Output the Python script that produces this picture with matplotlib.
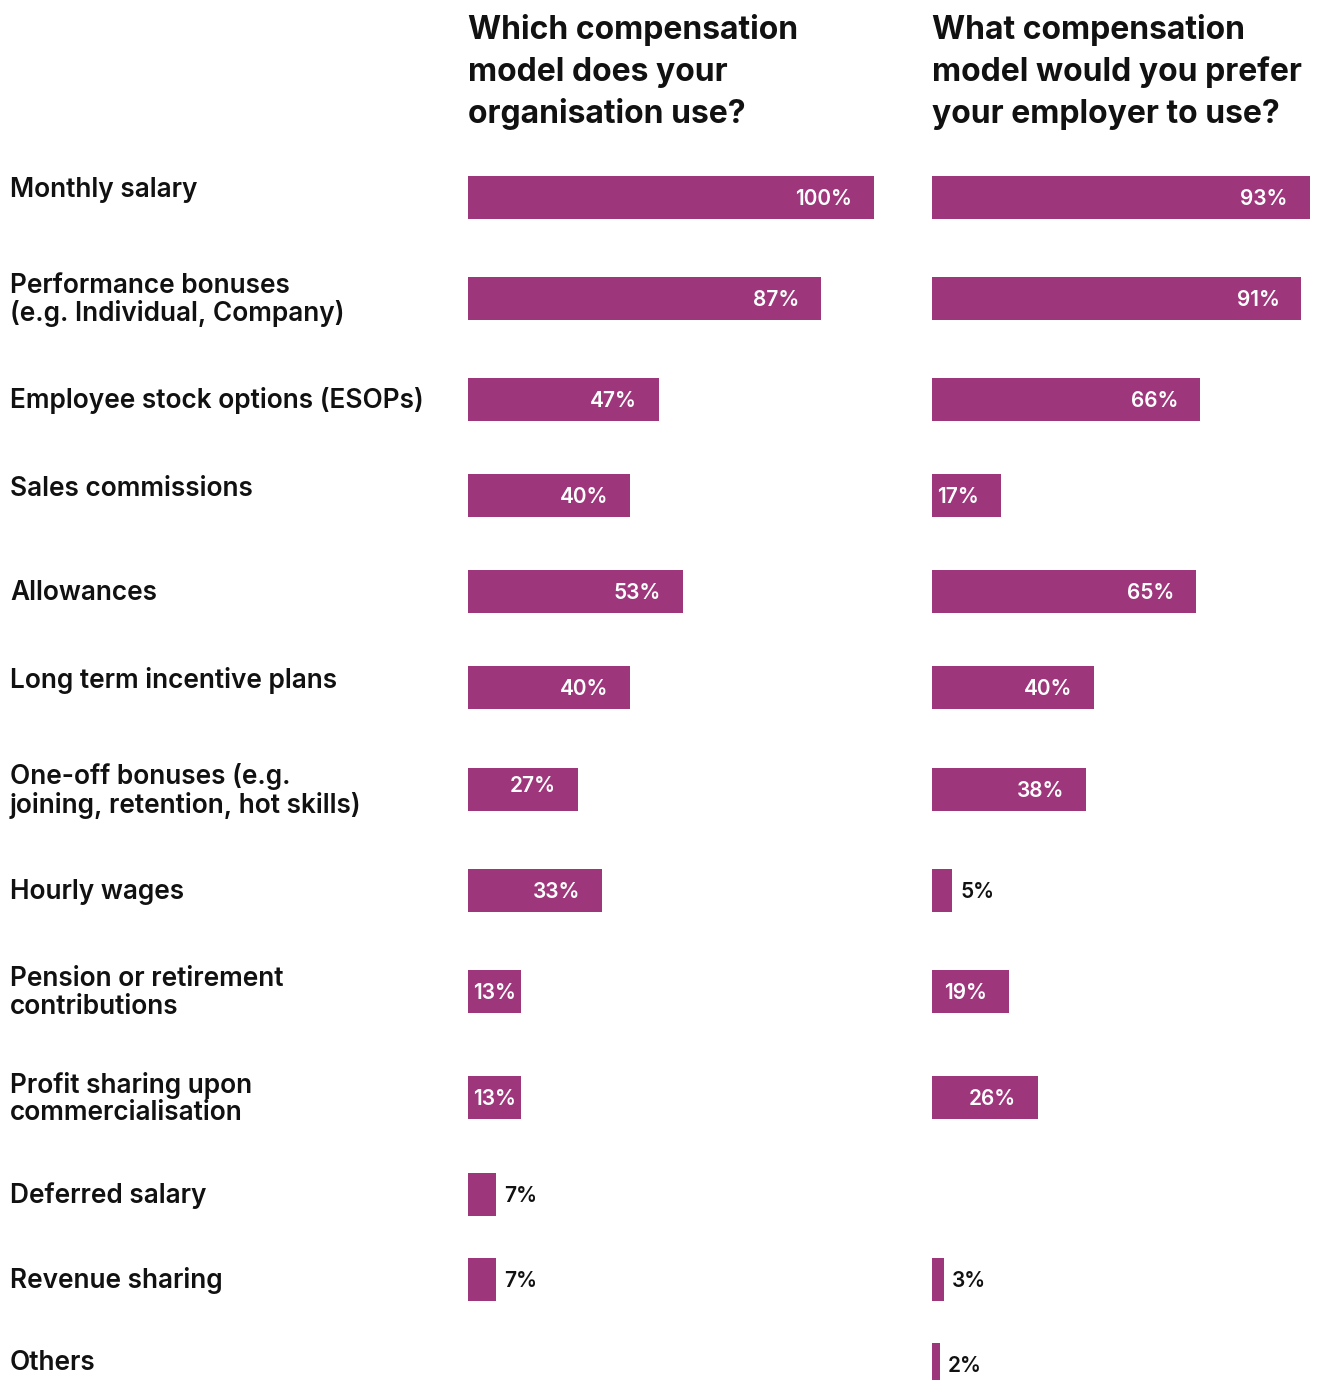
import matplotlib
matplotlib.use("Agg")
import matplotlib.pyplot as plt
from matplotlib.transforms import blended_transform_factory

# survey results, % of respondents
categories = [
    "Monthly salary",
    "Performance bonuses\n(e.g. Individual, Company)",
    "Employee stock options (ESOPs)",
    "Sales commissions",
    "Allowances",
    "Long term incentive plans",
    "One-off bonuses (e.g.\njoining, retention, hot skills)",
    "Hourly wages",
    "Pension or retirement\ncontributions",
    "Profit sharing upon\ncommercialisation",
    "Deferred salary",
    "Revenue sharing",
    "Others",
]
current_use = [100, 87, 47, 40, 53, 40, 27, 33, 13, 13, 7, 7, None]
preferred = [93, 91, 66, 17, 65, 40, 38, 5, 19, 26, None, 3, 2]

titles = [
    ["Which compensation", "model does your", "organisation use?"],
    ["What compensation", "model would you prefer", "your employer to use?"],
]

# layout (pixels from the top of the figure)
W, H = 1327, 1380
row_y = [197, 298, 399, 495, 591, 687, 789, 890, 991, 1097, 1194, 1279, 1364]
label_nudge = {0: -9, 3: -8, 5: -8, 12: -3}
bar_h = 43
col_left = [468, 932]
col_width = 406
title_baselines = [39, 81, 123]
text_drop = 2  # va="center" sits a touch high, push text down

BAR = "#9e367c"
INK = "#111111"
FONT = "Inter"

fig = plt.figure(figsize=(W / 100, H / 100), dpi=100)
fig.patch.set_facecolor("white")

axes = []
for x0 in col_left:
    ax = fig.add_axes([x0 / W, 0, col_width / W, 1])
    ax.set_xlim(0, 100)
    ax.set_ylim(H, 0)
    ax.axis("off")
    axes.append(ax)

for ax, values, lines in zip(axes, [current_use, preferred], titles):
    for yb, line in zip(title_baselines, lines):
        ax.text(0, yb, line, fontsize=23, fontweight="bold", family=FONT,
                color=INK, va="baseline", ha="left", clip_on=False)

    ys = [y for y, v in zip(row_y, values) if v is not None]
    vs = [v for v in values if v is not None]
    ax.barh(ys, vs, height=bar_h, left=0, color=BAR, linewidth=0)

    for i, (y, v) in enumerate(zip(row_y, values)):
        if v is None:
            continue
        txt = f"{v}%"
        ty = y + text_drop + (-5 if (ax is axes[0] and i == 6) else 0)
        if v < 10:
            ax.annotate(txt, (v, ty), xytext=(8, 0), textcoords="offset pixels",
                        ha="left", va="center", fontsize=15, fontweight="semibold",
                        family=FONT, color=INK)
        elif v < 15:
            ax.annotate(txt, (v / 2, ty), ha="center", va="center", fontsize=15,
                        fontweight="semibold", family=FONT, color="white")
        else:
            ax.annotate(txt, (v, ty), xytext=(-22, 0), textcoords="offset pixels",
                        ha="right", va="center", fontsize=15, fontweight="semibold",
                        family=FONT, color="white")

# category labels down the left edge
trans = blended_transform_factory(fig.transFigure, axes[0].transData)
for i, (y, cat) in enumerate(zip(row_y, categories)):
    axes[0].text(10 / W, y + text_drop + label_nudge.get(i, 0), cat, transform=trans,
                 fontsize=18.9, fontweight="semibold", family=FONT, color=INK,
                 ha="left", va="center", linespacing=1.05, clip_on=False)

fig.savefig("out.png", dpi=100, facecolor="white")
